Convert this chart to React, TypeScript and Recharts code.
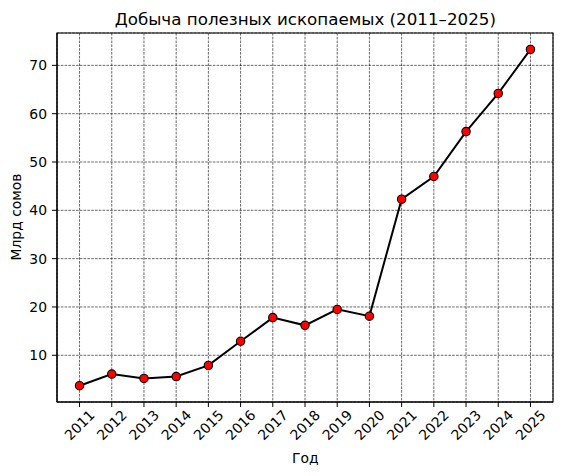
import { LineChart, Line, XAxis, YAxis, CartesianGrid, ReferenceArea } from 'recharts';

const years = [2011, 2012, 2013, 2014, 2015, 2016, 2017, 2018, 2019, 2020, 2021, 2022, 2023, 2024, 2025];
const values = [3.7, 6.1, 5.2, 5.6, 7.9, 12.9, 17.8, 16.2, 19.5, 18.1, 42.3, 47.0, 56.3, 64.2, 73.3];
const yTicks = [10, 20, 30, 40, 50, 60, 70];

const title = 'Добыча полезных ископаемых (2011–2025)';
const xLabel = 'Год';
const yLabel = 'Млрд сомов';

const data = years.map((year, i) => ({ year, value: values[i] }));

const FONT = '"DejaVu Sans", sans-serif';
const W = 562;
const H = 476;
const X_DOMAIN = [2010.3, 2025.7];
const Y_DOMAIN = [0.33, 76.7];

const YearTick = (props: any) => {
  const { x, y, payload } = props;
  const cx = x;
  const cy = y + 16;
  return (
    <text
      x={cx}
      y={cy}
      textAnchor="middle"
      dominantBaseline="central"
      transform={`rotate(-45, ${cx}, ${cy})`}
      fontFamily={FONT}
      fontSize={13.9}
      fill="#000"
    >
      {payload.value}
    </text>
  );
};

const Dot = (props: any) => {
  const { cx, cy } = props;
  if (cx == null || cy == null) return null;
  return <circle cx={cx} cy={cy} r={4.2} fill="#ff0000" stroke="#000" strokeWidth={1.1} />;
};

const App = () => {
  return (
    <div style={{ position: 'absolute', left: 0, top: 0, width: W, height: H, background: '#fff' }}>
      <LineChart
        width={W}
        height={H}
        data={data}
        margin={{ top: 33, right: 9, left: 0, bottom: 0 }}
      >
        <CartesianGrid stroke="#000" strokeWidth={0.6} strokeDasharray="2.6 1.2" />
        <XAxis
          dataKey="year"
          type="number"
          domain={X_DOMAIN}
          ticks={years}
          allowDataOverflow
          interval={0}
          height={74}
          tickSize={5}
          tickLine={{ stroke: '#000', strokeWidth: 1 }}
          axisLine={{ stroke: '#000', strokeWidth: 1.1 }}
          tick={<YearTick />}
        />
        <YAxis
          type="number"
          domain={Y_DOMAIN}
          ticks={yTicks}
          allowDataOverflow
          width={57}
          tickSize={5}
          tickMargin={5}
          tickLine={{ stroke: '#000', strokeWidth: 1 }}
          axisLine={{ stroke: '#000', strokeWidth: 1.1 }}
          tick={{ fill: '#000', fontFamily: FONT, fontSize: 13.9 }}
        />
        <ReferenceArea
          x1={X_DOMAIN[0]}
          x2={X_DOMAIN[1]}
          y1={Y_DOMAIN[0]}
          y2={Y_DOMAIN[1]}
          fill="none"
          fillOpacity={0}
          stroke="#000"
          strokeWidth={1.1}
        />
        <Line
          type="linear"
          dataKey="value"
          stroke="#000"
          strokeWidth={2}
          dot={<Dot />}
          activeDot={false}
          isAnimationActive={false}
        />
      </LineChart>
      <svg
        width={W}
        height={H}
        style={{ position: 'absolute', left: 0, top: 0, pointerEvents: 'none' }}
      >
        <text x={305.3} y={24.5} textAnchor="middle" fontFamily={FONT} fontSize={16.7} fill="#000">
          {title}
        </text>
        <text x={305.3} y={463} textAnchor="middle" fontFamily={FONT} fontSize={13.9} fill="#000">
          {xLabel}
        </text>
        <text
          x={21}
          y={217}
          textAnchor="middle"
          transform="rotate(-90, 21, 217)"
          fontFamily={FONT}
          fontSize={13.9}
          fill="#000"
        >
          {yLabel}
        </text>
      </svg>
    </div>
  );
};

export default App;
